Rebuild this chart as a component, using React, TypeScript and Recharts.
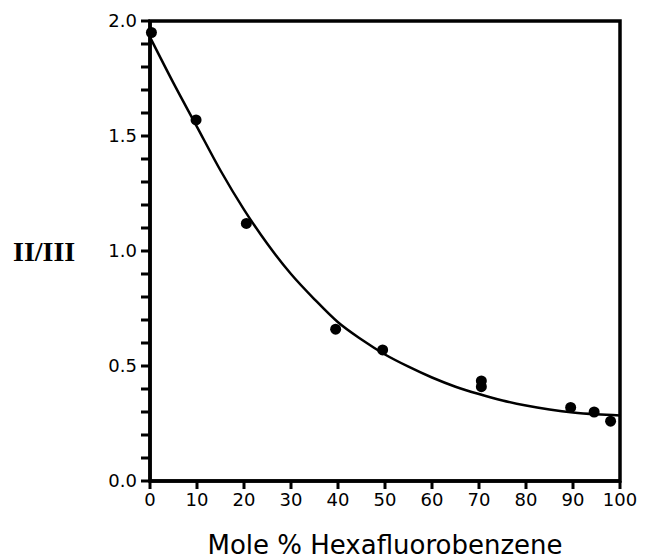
import React from 'react';
import {
  ComposedChart,
  Line,
  Scatter,
  XAxis,
  YAxis,
  ReferenceArea,
  Label,
} from 'recharts';

// measured points
const moleX = [0.3, 9.8, 20.5, 39.5, 49.5, 70.5, 70.5, 89.5, 94.5, 98];
const ratioY = [1.95, 1.57, 1.12, 0.66, 0.57, 0.435, 0.41, 0.32, 0.30, 0.26];

// smooth fitted curve
const curveX = [0, 5, 10, 15, 20, 25, 30, 35, 40, 45, 50, 55, 60, 65, 70, 75, 80, 85, 90, 95, 100];
const curveY = [1.93, 1.73, 1.54, 1.35, 1.18, 1.03, 0.9, 0.79, 0.69, 0.615, 0.55, 0.497, 0.45, 0.41, 0.378, 0.35, 0.328, 0.311, 0.298, 0.29, 0.285];

const xTicks = [0, 10, 20, 30, 40, 50, 60, 70, 80, 90, 100];
const yTicks = [0, 0.1, 0.2, 0.3, 0.4, 0.5, 0.6, 0.7, 0.8, 0.9, 1, 1.1, 1.2, 1.3, 1.4, 1.5, 1.6, 1.7, 1.8, 1.9, 2];
const yLabelled = ['0.0', '0.5', '1.0', '1.5', '2.0'];

const points = moleX.map((x, i) => ({ x, y: ratioY[i] }));
const curve = curveX.map((x, i) => ({ x, y: curveY[i] }));

const tickFont = { fontFamily: 'DejaVu Sans', fontSize: 18, fill: '#000' };

const Dot = (props: any) => <circle cx={props.cx} cy={props.cy} r={5.5} fill="#000" />;

const App: React.FC = () => {
  return (
    <div style={{ position: 'absolute', left: 0, top: 0, background: '#fff' }}>
      <ComposedChart width={646} height={559} margin={{ top: 21, right: 26, bottom: 0, left: 0 }}>
        <XAxis
          type="number"
          dataKey="x"
          domain={[0, 100]}
          ticks={xTicks}
          interval={0}
          height={78}
          tickSize={8}
          tickMargin={4}
          axisLine={{ stroke: '#000', strokeWidth: 3.5 }}
          tickLine={{ stroke: '#000', strokeWidth: 3 }}
          tick={tickFont}
        >
          <Label
            value="Mole % Hexafluorobenzene"
            position="insideBottom"
            offset={5}
            style={{ fontFamily: 'DejaVu Sans', fontSize: 26, fill: '#000' }}
          />
        </XAxis>
        <YAxis
          type="number"
          dataKey="y"
          domain={[0, 2]}
          ticks={yTicks}
          interval={0}
          width={150}
          tickSize={9}
          tickMargin={4}
          axisLine={{ stroke: '#000', strokeWidth: 3.5 }}
          tickLine={{ stroke: '#000', strokeWidth: 3 }}
          tick={tickFont}
          tickFormatter={(v: number) => {
            const s = v.toFixed(1);
            return yLabelled.includes(s) ? s : '';
          }}
        >
          <Label
            value="II/III"
            position="insideLeft"
            offset={13}
            style={{ fontFamily: 'Liberation Serif', fontSize: 28, fontWeight: 'bold', fill: '#000' }}
          />
        </YAxis>
        <ReferenceArea x1={0} x2={100} y1={0} y2={2} fill="none" stroke="#000" strokeWidth={3.5} />
        <Line
          data={curve}
          dataKey="y"
          type="monotone"
          stroke="#000"
          strokeWidth={2.5}
          dot={false}
          isAnimationActive={false}
        />
        <Scatter data={points} dataKey="y" fill="#000" shape={Dot} isAnimationActive={false} />
      </ComposedChart>
    </div>
  );
};

export default App;
